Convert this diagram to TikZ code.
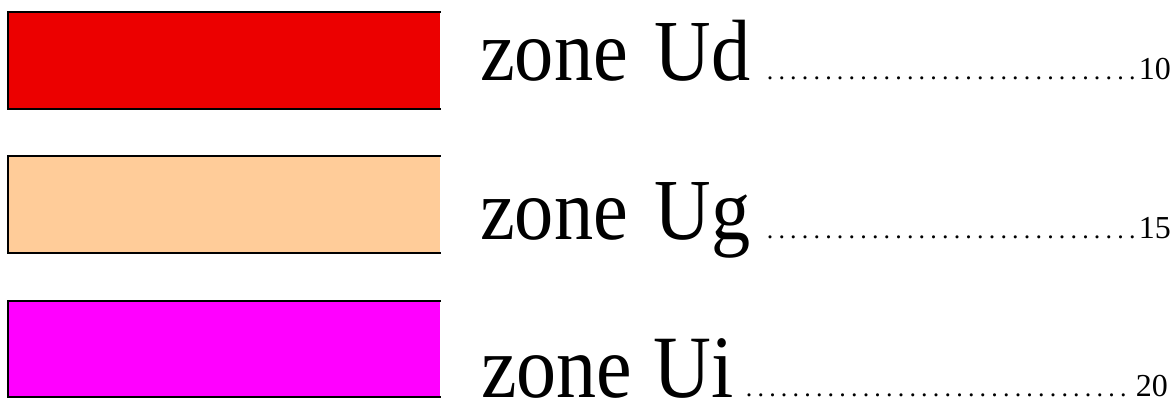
\documentclass[tikz,border=0pt]{standalone}
\usepackage{fontspec}
\setmainfont{Liberation Serif}
\newfontfamily\zonefont[FakeStretch=0.9]{Liberation Serif}

\definecolor{zoneUd}{HTML}{EC0000}
\definecolor{zoneUg}{HTML}{FFCC99}
\definecolor{zoneUi}{HTML}{FF00FF}

% a row of evenly spaced leader dots of the given width
\newcommand\dotrow[1]{\hbox to #1{\xleaders\hbox to 11.5pt{\hss.\hss}\hfill}}

\tikzset{
  swatchedge/.style={line width=2.2pt, line cap=rect},
  zonename/.style={anchor=base west, inner sep=0pt, text depth=0pt,
    font=\zonefont\fontsize{87}{87}\selectfont},
  leaderdots/.style={anchor=base west, inner sep=0pt,
    font=\fontsize{26}{26}\selectfont},
  pageno/.style={anchor=base east, inner sep=0pt,
    font=\fontsize{32}{32}\selectfont},
}

\begin{document}
\begin{tikzpicture}[x=1pt,y=-1pt]
  \useasboundingbox (0,0) rectangle (1174,403);

  % colour swatches, open on the right side
  \fill[zoneUd] (8,12) rectangle (440,109);
  \draw[swatchedge] (440,12) -- (8,12) -- (8,109) -- (440,109);

  \fill[zoneUg] (8,156) rectangle (440,253);
  \draw[swatchedge] (440,156) -- (8,156) -- (8,253) -- (440,253);

  \fill[zoneUi] (8,301) rectangle (440,397);
  \draw[swatchedge] (440,301) -- (8,301) -- (8,397) -- (440,397);

  % legend entries
  \node[zonename] (ud) at (480,81) {zone\hspace{27pt}Ud};
  \node[leaderdots] (uddots) at (764,80) {\dotrow{374pt}};
  \node[pageno] (udpage) at (1171,80) {10};

  \node[zonename] (ug) at (480,240) {zone\hspace{27pt}Ug};
  \node[leaderdots] (ugdots) at (764,239) {\dotrow{374pt}};
  \node[pageno] (ugpage) at (1171,239) {15};

  \node[zonename, font=\zonefont\fontsize{89}{89}\selectfont] (ui) at (481,397) {zone\hspace{21pt}Ui};
  \node[leaderdots] (uidots) at (743,396.5) {\dotrow{386pt}};
  \node[pageno] (uipage) at (1168,396.5) {20};
\end{tikzpicture}
\end{document}
